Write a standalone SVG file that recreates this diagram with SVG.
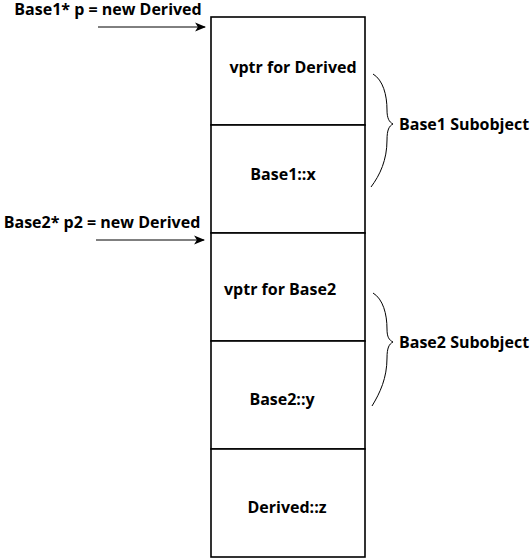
<svg xmlns="http://www.w3.org/2000/svg" width="532" height="558" viewBox="0 0 532 558">
<defs>
<marker id="arr" viewBox="0 0 10 10" refX="9" refY="5" markerWidth="11" markerHeight="11" markerUnits="userSpaceOnUse" orient="auto">
<path d="M0,1 L10,5 L0,9 L2.5,5 Z" fill="#000"/>
</marker>
</defs>
<style>
.box{fill:#fff;stroke:#000;stroke-width:1.6}
.t{font-family:"Open Sans","Noto Sans","DejaVu Sans",sans-serif;font-weight:bold;font-size:16px;fill:#000}
.c{text-anchor:middle}
.ln{stroke:#000;stroke-width:1;fill:none}
</style>
<rect width="532" height="558" fill="#fff"/>
<g id="vptr-derived"><rect class="box" x="211" y="17" width="154" height="108"/><text class="t c" x="293" y="73">vptr for Derived</text></g>
<g id="base1-x"><rect class="box" x="211" y="125" width="154" height="108"/><text class="t c" x="283" y="180">Base1::x</text></g>
<g id="vptr-base2"><rect class="box" x="211" y="233" width="154" height="108"/><text class="t c" x="280" y="295">vptr for Base2</text></g>
<g id="base2-y"><rect class="box" x="211" y="341" width="154" height="108"/><text class="t c" x="282" y="405">Base2::y</text></g>
<g id="derived-z"><rect class="box" x="211" y="449" width="154" height="108"/><text class="t c" x="287" y="513">Derived::z</text></g>
<g id="p1-label"><text class="t c" x="108" y="15">Base1* p = new Derived</text></g>
<g id="p2-label"><text class="t c" x="102" y="228">Base2* p2 = new Derived</text></g>
<g id="base1-sub"><text class="t" x="399" y="130">Base1 Subobject</text></g>
<g id="base2-sub"><text class="t" x="399" y="348">Base2 Subobject</text></g>
<g id="connectors">
<line class="ln" x1="98" y1="27" x2="205" y2="27" marker-end="url(#arr)"/>
<line class="ln" x1="96" y1="240" x2="204" y2="240" marker-end="url(#arr)"/>
<path class="ln" d="M373,74 C383,80 387,95 387,110 C387,118 389,122 393,124 C389,126 387,130 387,140 C387,160 380,175 371,187"/>
<path class="ln" d="M373,293 C383,299 387,314 387,329 C387,337 389,340 393,342 C389,344 387,348 387,358 C387,378 380,393 372,406"/>
</g>
</svg>
